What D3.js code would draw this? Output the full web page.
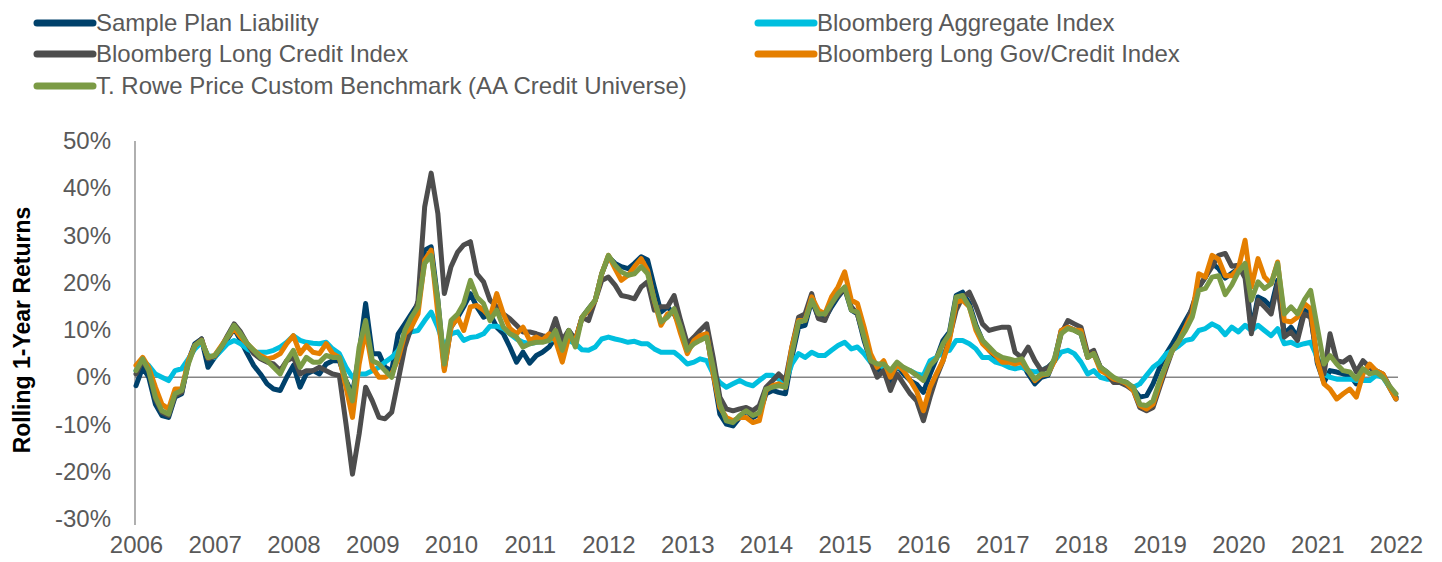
<!DOCTYPE html>
<html>
<head>
<meta charset="utf-8">
<script src="https://cdn.jsdelivr.net/npm/d3@7"></script>
<style>
  body { margin: 0; background: #fff; }
  svg { display: block; font-family: "Liberation Sans", Arial, sans-serif; }
</style>
</head>
<body>
<svg id="chart" width="1442" height="562"></svg>
<script>
// Monthly rolling 1-year returns (%), Jan 2006 .. Jan 2022
const startMonth = new Date(2006, 0, 1);

const samplePlanLiability = [
  -1.8, 2.1, 0.0, -5.7, -8.1, -8.5, -4.2, -3.5, 3.5, 7.1, 8.1, 2.1,
  4.2, 6.0, 8.1, 10.3, 7.8, 5.0, 2.5, 0.7, -1.4, -2.5, -2.8, 0.0,
  2.5, -2.1, 0.7, 1.4, 0.7, 2.8, 3.5, 3.5, -0.7, -3.5, 5.0, 15.6,
  5.0, 5.0, 2.1, 1.4, 9.2, 11.3, 13.4, 15.6, 26.9, 27.6, 16.3, 1.8,
  10.6, 12.7, 14.9, 17.7, 14.9, 12.7, 13.4, 10.6, 9.2, 6.4, 3.2, 5.3,
  3.0, 4.6, 5.3, 6.4, 8.5, 6.4, 9.9, 7.8, 12.7, 14.5, 16.3, 21.9,
  25.5, 24.1, 23.4, 23.0, 24.1, 25.5, 24.8, 19.1, 13.8, 14.9, 13.4, 10.6,
  6.4, 7.8, 8.5, 9.2, 0.7, -7.8, -9.9, -10.3, -8.5, -7.1, -8.5, -7.8,
  -3.5, -2.8, -3.2, -3.5, 4.2, 10.6, 11.0, 16.3, 12.7, 12.4, 14.9, 17.0,
  18.8, 14.2, 13.4, 7.8, 3.5, 1.4, 2.8, -0.7, 2.5, 0.7, -0.7, -1.5,
  -3.2, 0.7, 3.9, 7.8, 9.6, 17.3, 18.0, 15.6, 11.0, 7.8, 5.7, 4.2,
  3.2, 3.5, 3.2, 3.2, 0.7, -1.4, 0.0, 0.4, 3.9, 9.9, 10.6, 10.0,
  9.2, 4.2, 5.0, 2.1, 1.1, -0.4, -0.7, -1.1, -2.5, -4.2, -3.9, -1.4,
  2.1, 5.0, 7.1, 9.6, 12.0, 14.5, 19.1, 21.2, 24.1, 23.0, 21.0, 22.0,
  23.0, 23.4, 10.0, 17.0, 16.3, 14.9, 20.5, 9.2, 10.6, 8.5, 14.2, 13.4,
  3.0, -1.1, 1.4, 1.1, 0.7, 0.4, -1.4, 1.4, 2.1, 1.1, 0.4, -2.1,
  -4.6
];

const bbgAggregate = [
  1.4, 3.5, 2.5, 0.7, 0.0, -0.7, 1.4, 1.8, 3.9, 6.0, 7.4, 4.6,
  4.2, 5.7, 7.1, 7.8, 7.1, 6.0, 5.3, 5.3, 5.3, 5.7, 6.4, 7.4,
  8.8, 7.8, 7.4, 7.2, 7.1, 7.4, 6.0, 5.0, 2.1, 0.0, 0.7, 0.7,
  1.4, 2.1, 3.2, 4.2, 5.7, 8.5, 9.6, 9.9, 12.0, 13.8, 10.6, 6.4,
  9.2, 9.6, 7.8, 8.4, 8.6, 9.2, 10.8, 10.8, 10.3, 9.2, 8.1, 7.4,
  7.1, 7.4, 7.6, 7.8, 8.1, 8.1, 7.8, 7.1, 5.8, 5.7, 6.4, 8.1,
  8.5, 8.1, 7.8, 7.4, 7.6, 7.1, 7.1, 6.0, 5.3, 5.3, 5.3, 4.2,
  2.8, 3.2, 3.9, 3.5, 0.7, -1.1, -2.1, -1.4, -0.7, -1.4, -1.8, -0.7,
  0.4, 0.4, -0.4, -1.1, 2.8, 5.0, 4.2, 5.3, 4.6, 4.6, 5.7, 6.7,
  7.4, 6.0, 6.4, 5.0, 3.2, 2.8, 2.1, 1.4, 2.1, 1.8, 1.4, 0.7,
  0.4, 3.5, 4.2, 5.3, 5.7, 7.8, 7.8, 7.1, 6.0, 4.2, 4.2, 3.2,
  2.8, 2.1, 1.8, 2.1, 1.4, 1.1, 1.4, 2.1, 3.5, 5.3, 5.7, 5.0,
  3.2, 0.7, 1.4, 0.0, -0.4, -0.4, -0.7, -1.4, -2.1, -1.4, 0.4, 2.1,
  3.2, 5.0, 5.7, 6.7, 7.8, 8.1, 9.9, 10.3, 11.3, 10.6, 9.0, 10.6,
  9.6, 11.0, 9.9, 11.0, 9.9, 8.8, 10.3, 7.1, 7.4, 6.7, 7.1, 7.4,
  4.2, 0.7, 0.0, -0.4, -0.4, -0.4, -0.7, -0.7, -0.7, 0.4, 0.0, -2.1,
  -4.2
];

const bbgLongCredit = [
  0.7, 3.5, 1.4, -4.6, -7.4, -8.1, -3.9, -3.2, 3.2, 6.7, 8.1, 3.9,
  4.4, 6.4, 8.8, 11.3, 9.6, 7.1, 5.0, 3.9, 3.2, 2.8, 1.4, 3.5,
  4.2, 0.7, 1.4, 1.4, 2.1, 1.4, 0.7, 0.4, -9.9, -20.5, -12.0, -2.1,
  -5.0, -8.5, -8.8, -7.4, -0.7, 6.4, 10.6, 16.3, 36.1, 43.2, 34.7, 17.7,
  23.4, 26.5, 28.0, 28.7, 21.9, 20.2, 16.3, 14.9, 13.4, 12.4, 11.0, 9.6,
  9.6, 9.2, 8.8, 8.5, 12.4, 7.8, 9.9, 7.8, 12.7, 12.0, 16.3, 20.5,
  21.2, 19.5, 17.3, 17.0, 16.6, 19.1, 20.2, 14.2, 14.9, 14.9, 17.3, 12.0,
  7.1, 8.5, 9.9, 11.3, 4.2, -4.2, -6.7, -7.1, -6.7, -6.4, -7.1, -6.0,
  -2.1, -0.7, 0.7, -0.7, 6.4, 12.7, 13.4, 17.7, 12.4, 12.0, 15.6, 17.3,
  18.8, 14.9, 13.4, 8.5, 3.5, 0.0, 1.4, -2.8, 0.7, -1.4, -3.5, -5.0,
  -9.2, -4.2, 0.0, 3.5, 8.5, 14.2, 17.0, 18.0, 14.9, 11.3, 9.9, 10.3,
  10.6, 10.6, 5.3, 4.2, 6.4, 3.5, 1.4, 2.1, 3.5, 9.2, 12.0, 11.3,
  10.6, 5.0, 5.7, 2.1, 0.7, -1.1, -1.1, -1.8, -2.8, -6.4, -7.1, -6.4,
  -2.1, 2.1, 5.7, 7.8, 10.6, 14.9, 19.1, 21.2, 23.4, 25.8, 26.2, 23.5,
  23.7, 21.0, 9.2, 16.3, 14.9, 13.4, 19.8, 8.5, 9.6, 7.8, 13.4, 12.7,
  4.0, 0.7, 9.2, 3.5, 3.2, 4.2, 1.1, 3.5, 2.1, 1.4, 0.7, -1.8,
  -4.2
];

const bbgLongGovCredit = [
  2.5, 4.2, 2.1, -2.1, -5.7, -6.7, -2.5, -2.5, 3.5, 6.7, 7.8, 4.2,
  4.6, 6.7, 8.5, 10.3, 8.5, 7.1, 5.7, 4.6, 3.9, 4.2, 5.0, 7.1,
  8.8, 5.0, 6.7, 5.3, 5.0, 7.1, 5.0, 4.2, -2.1, -8.5, 2.8, 10.0,
  2.1, 0.0, 0.0, 0.7, 3.9, 9.2, 10.6, 13.4, 24.8, 26.9, 13.4, 1.4,
  10.6, 12.7, 9.9, 14.9, 15.2, 14.2, 12.7, 17.7, 13.4, 10.3, 9.2, 10.6,
  7.8, 8.5, 7.8, 9.2, 7.8, 3.2, 8.5, 7.8, 12.7, 14.2, 16.3, 21.9,
  25.8, 23.0, 20.5, 21.6, 23.4, 25.1, 22.6, 16.3, 11.0, 13.4, 13.8, 9.2,
  5.0, 7.8, 8.8, 9.2, 0.7, -6.4, -8.5, -9.2, -8.5, -8.5, -9.6, -9.2,
  -2.8, -1.8, -1.4, -2.1, 6.4, 12.0, 12.0, 17.0, 14.2, 13.4, 17.0, 19.1,
  22.3, 16.3, 15.6, 10.6, 5.0, 2.1, 3.5, 0.0, 2.8, 1.4, -0.7, -3.0,
  -7.1, -2.1, 0.7, 3.5, 7.8, 15.9, 16.3, 14.9, 9.9, 7.1, 5.7, 4.6,
  3.2, 3.2, 2.8, 3.2, 1.4, -0.7, 0.4, 0.7, 3.5, 9.9, 10.6, 10.0,
  9.9, 4.2, 5.0, 1.4, 0.7, -0.4, -0.7, -1.4, -2.8, -6.0, -6.7, -5.7,
  -1.4, 2.8, 5.7, 7.8, 10.6, 13.4, 21.9, 21.2, 25.8, 25.0, 21.5, 21.5,
  23.0, 29.0, 19.1, 25.1, 21.2, 19.8, 24.4, 12.0, 11.7, 12.7, 15.6, 14.5,
  3.5, -1.4, -2.5, -4.6, -3.5, -2.5, -4.2, 0.7, 2.8, 1.4, 0.7, -2.1,
  -4.6
];

const troweCustom = [
  1.4, 3.9, 1.4, -4.2, -7.1, -7.8, -3.5, -2.8, 2.8, 6.7, 7.8, 4.2,
  4.6, 6.4, 8.5, 11.0, 9.2, 7.1, 5.7, 4.2, 3.5, 2.1, 0.7, 3.5,
  5.7, 2.1, 4.2, 3.2, 3.2, 4.6, 4.2, 4.2, -0.7, -5.0, 6.4, 12.0,
  3.5, 2.8, 1.4, 0.0, 5.0, 9.9, 12.7, 14.9, 24.1, 25.8, 16.3, 2.8,
  12.0, 13.4, 15.6, 20.5, 17.0, 15.6, 12.0, 14.2, 10.6, 9.2, 8.5, 6.4,
  7.1, 7.4, 7.4, 7.8, 9.9, 5.7, 9.9, 6.4, 12.7, 14.5, 16.3, 21.9,
  25.8, 23.7, 22.3, 21.6, 21.9, 23.4, 21.9, 16.3, 11.7, 12.7, 14.5, 10.6,
  5.7, 7.1, 7.8, 8.5, 2.1, -5.7, -9.2, -9.6, -8.1, -7.1, -8.1, -7.5,
  -2.5, -2.1, -1.8, -2.1, 5.0, 11.7, 12.0, 16.3, 13.4, 13.4, 15.6, 17.7,
  19.1, 14.2, 13.8, 8.5, 3.5, 2.8, 2.8, 1.4, 3.2, 2.1, 1.4, 0.4,
  -0.7, 2.5, 3.9, 7.1, 9.2, 17.0, 17.3, 14.9, 10.6, 7.8, 6.4, 5.0,
  4.2, 3.9, 3.5, 3.9, 1.4, -0.4, 0.7, 0.7, 4.2, 9.2, 10.3, 9.9,
  9.2, 4.2, 5.0, 2.1, 1.1, 0.0, -0.7, -1.1, -2.1, -5.7, -6.0, -5.0,
  -0.7, 2.8, 5.7, 7.8, 9.9, 12.7, 18.4, 18.8, 21.2, 21.5, 17.5, 19.5,
  22.3, 24.1, 16.3, 20.2, 18.8, 19.8, 24.1, 13.4, 14.9, 13.4, 16.3, 18.4,
  10.6, 2.8, 4.6, 2.8, 1.4, 1.1, -0.4, 1.8, 0.7, 1.1, 0.0, -1.8,
  -3.5
];

const seriesNames = [
  "Sample Plan Liability",
  "Bloomberg Aggregate Index",
  "Bloomberg Long Credit Index",
  "Bloomberg Long Gov/Credit Index",
  "T. Rowe Price Custom Benchmark (AA Credit Universe)"
];
const seriesValues = [samplePlanLiability, bbgAggregate, bbgLongCredit, bbgLongGovCredit, troweCustom];
const seriesColors = ["#00416b", "#00bfdf", "#4d4d4d", "#e57f00", "#7b9b45"];

const yTicks = [-30, -20, -10, 0, 10, 20, 30, 40, 50];
const yearTicks = d3.range(2006, 2023);

const svg = d3.select('#chart');

const margin = { left: 136, right: 46, top: 141, bottom: 44 };
const width = 1442, height = 562;

const x = d3.scaleTime()
  .domain([startMonth, new Date(2022, 0, 1)])
  .range([margin.left, width - margin.right]);
const y = d3.scaleLinear()
  .domain([-30, 50])
  .range([height - margin.bottom + 1, margin.top]);

const dates = seriesValues[0].map((d, i) => d3.timeMonth.offset(startMonth, i));

// y axis (labels only + vertical line)
const yAxis = svg.append('g')
  .attr('transform', `translate(${margin.left - 1},0)`)
  .call(d3.axisLeft(y).tickValues(yTicks).tickFormat(d => d + '%').tickSize(0).tickPadding(24));
yAxis.select('.domain').attr('stroke', '#858585').attr('stroke-width', 1.3)
  .attr('d', `M0,${y(50)}V${y(-30) + 6}`);
yAxis.selectAll('text').attr('font-size', 24).attr('fill', '#595959')
  .attr('font-family', '"Liberation Sans", Arial, sans-serif');

// x axis labels
const xAxis = svg.append('g')
  .attr('transform', `translate(0,${height - margin.bottom})`)
  .call(d3.axisBottom(x).tickValues(yearTicks.map(yr => new Date(yr, 0, 1)))
    .tickFormat(d3.timeFormat('%Y')).tickSize(0).tickPadding(18));
xAxis.select('.domain').remove();
xAxis.selectAll('text').attr('font-size', 24).attr('fill', '#595959')
  .attr('font-family', '"Liberation Sans", Arial, sans-serif');

// zero line
svg.append('line')
  .attr('x1', margin.left - 1).attr('x2', width - margin.right + 2)
  .attr('y1', y(0)).attr('y2', y(0))
  .attr('stroke', '#858585').attr('stroke-width', 1.5);

// y axis title
svg.append('text')
  .attr('transform', `translate(30,${(y(50) + y(-30)) / 2}) rotate(-90)`)
  .attr('text-anchor', 'middle')
  .attr('font-size', 23).attr('font-weight', 'bold').attr('fill', '#000')
  .text('Rolling 1-Year Returns');

// lines
const line = d3.line()
  .x((d, i) => x(dates[i]))
  .y(d => y(d));

seriesValues.forEach((vals, k) => {
  svg.append('path')
    .datum(vals)
    .attr('fill', 'none')
    .attr('stroke', seriesColors[k])
    .attr('stroke-width', 5)
    .attr('stroke-linejoin', 'round')
    .attr('stroke-linecap', 'round')
    .attr('d', line);
});

// legend: two columns, row-major
const legendCols = [37, 758];
const legendRows = [23, 54, 86];
seriesNames.forEach((name, k) => {
  const cx = legendCols[k % 2], cy = legendRows[Math.floor(k / 2)];
  const g = svg.append('g').attr('transform', `translate(${cx},${cy})`);
  g.append('line').attr('x1', 0).attr('x2', 56).attr('y1', 0).attr('y2', 0)
    .attr('stroke', seriesColors[k]).attr('stroke-width', 7).attr('stroke-linecap', 'round');
  g.append('text').attr('x', 59).attr('y', 0).attr('dy', '0.35em')
    .attr('font-size', 24).attr('fill', '#595959').text(name);
});
</script>
</body>
</html>
